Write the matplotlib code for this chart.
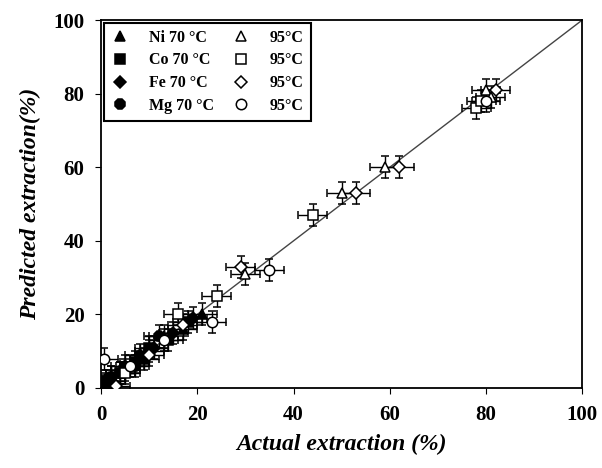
import matplotlib.pyplot as plt

plt.rcParams["font.family"] = ["Liberation Serif", "DejaVu Serif"]

# actual (x) vs predicted (y) extraction, %
ni70_x = [2, 5, 9, 13, 17, 21]
ni70_y = [3, 5, 8, 14, 16, 20]
ni95_x = [30, 50, 59, 80, 81]
ni95_y = [31, 53, 60, 81, 79]
co70_x = [1, 4, 7, 10, 14, 18]
co70_y = [2, 4, 7, 11, 13, 18]
co95_x = [5, 16, 24, 44, 78, 79]
co95_y = [4, 20, 25, 47, 76, 78]
fe70_x = [0.5, 2, 5, 8, 11, 15, 19]
fe70_y = [0.5, 2, 6, 9, 11, 15, 19]
fe95_x = [3, 10, 17, 29, 53, 62, 82]
fe95_y = [0.5, 9, 17, 33, 53, 60, 81]
mg70_x = [0.5, 2, 4, 7, 10, 12]
mg70_y = [1, 3, 4, 6, 10, 14]
mg95_x = [0.5, 6, 13, 23, 35, 80]
mg95_y = [8, 6, 13, 18, 32, 78]

fig = plt.figure(figsize=(6.02, 4.68), dpi=100)
ax = fig.add_axes([0.168, 0.171, 0.799, 0.786])

ax.plot([0, 100], [0, 100], color="#444444", lw=1, zorder=1)

series = [
    (ni70_x, ni70_y, "^", "black", "Ni 70 °C"),
    (co70_x, co70_y, "s", "black", "Co 70 °C"),
    (fe70_x, fe70_y, "D", "black", "Fe 70 °C"),
    (mg70_x, mg70_y, "8", "black", "Mg 70 °C"),
    (ni95_x, ni95_y, "^", "white", "95°C"),
    (co95_x, co95_y, "s", "white", "95°C"),
    (fe95_x, fe95_y, "D", "white", "95°C"),
    (mg95_x, mg95_y, "o", "white", "95°C"),
]

handles = []
for x, y, m, fc, lab in series:
    ms = 7.5 if m != "D" else 6.5
    eb = ax.errorbar(x, y, xerr=3, yerr=3, fmt=m, mfc=fc, mec="black",
                     ms=ms, mew=1.1, ecolor="black", elinewidth=1,
                     capsize=3, capthick=1, zorder=3)
    handles.append(eb[0])

leg = ax.legend(handles, [s[4] for s in series], ncol=2, loc="upper left",
                fancybox=False, edgecolor="black", framealpha=1,
                prop={"weight": "bold", "size": 11.5}, handletextpad=1.2,
                columnspacing=1.1, labelspacing=0.42, borderpad=0.45,
                handlelength=1.2, borderaxespad=0.15)
leg.get_frame().set_linewidth(1.5)

ax.set_xlim(0, 100)
ax.set_ylim(0, 100)
ax.set_xticks(range(0, 101, 20))
ax.set_yticks(range(0, 101, 20))
ax.tick_params(direction="out", length=4, labelsize=15, pad=8)
for t in ax.get_xticklabels() + ax.get_yticklabels():
    t.set_fontweight("bold")
for s in ax.spines.values():
    s.set_linewidth(1.3)

ax.set_xlabel("Actual extraction (%)", fontsize=17, fontweight="bold",
              fontstyle="italic", labelpad=7)
ax.set_ylabel("Predicted extraction(%)", fontsize=17, fontweight="bold",
              fontstyle="italic", labelpad=9)

fig.savefig("out.png", dpi=100)
